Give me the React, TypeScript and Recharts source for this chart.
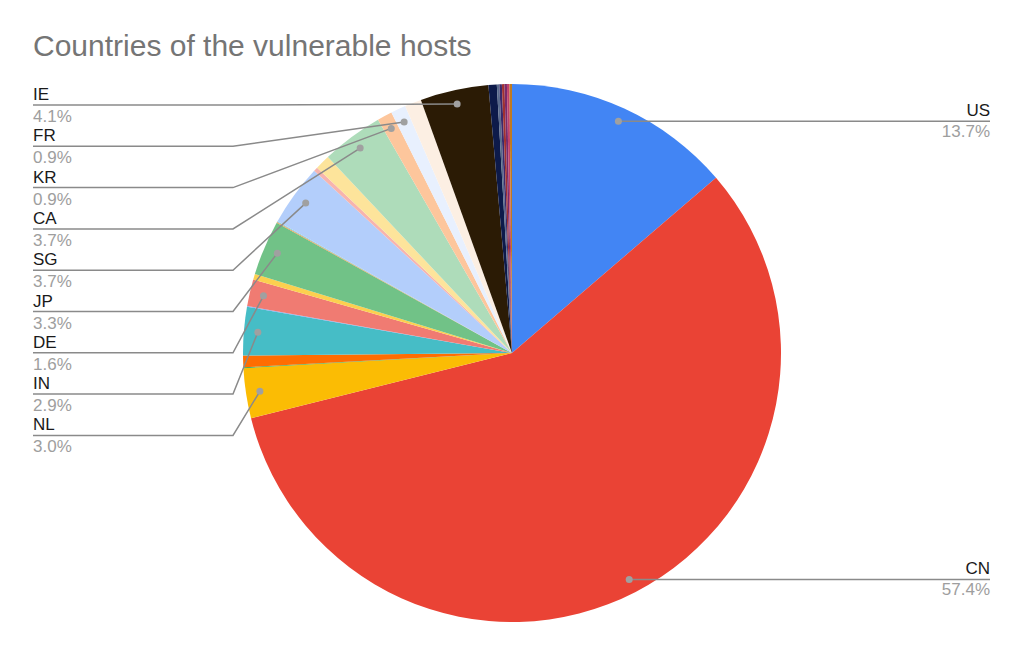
import { PieChart, Pie, Cell } from 'recharts';

// slice order is clockwise from 12 o'clock
const countries = [
  'US', 'CN', 'NL', 'o1', 'o2', 'IN', 'o3', 'DE', 'o4', 'JP', 'o5', 'o6', 'SG', 'o7', 'o8',
  'CA', 'KR', 'FR', 'o9', 'IE', 'o10', 'o11', 'o12', 'o13', 'o14', 'o15', 'o16',
];
const shares = [
  13.7, 57.4, 3.0, 0.05, 0.7, 2.9, 0.05, 1.6, 0.35, 3.3, 0.05, 0.05, 3.7, 0.25, 0.9,
  3.7, 0.9, 0.9, 1.0, 4.1, 0.5, 0.15, 0.15, 0.15, 0.15, 0.15, 0.15,
];
const colors = [
  '#4285f4', '#ea4335', '#fbbc04', '#34a853', '#ff6d01', '#46bdc6', '#7baaf7', '#f07b72',
  '#fcd04f', '#71c287', '#ff994d', '#7ed1d7', '#b3cefb', '#f7b4ae', '#fde49b', '#aedcba',
  '#fdc69c', '#e8f0fe', '#fcefe3', '#2b1b05', '#0d1a4a', '#5a6b8c', '#3b2a6b', '#a03030',
  '#7a2a6a', '#c0406a', '#c07a20',
];
const leftLabels = ['IE', 'FR', 'KR', 'CA', 'SG', 'JP', 'DE', 'IN', 'NL'];
const rightLabels = ['US', 'CN'];

const data = countries.map((name, i) => ({ name, value: shares[i] }));
const total = shares.reduce((a, b) => a + b, 0);

const RAD = Math.PI / 180;

function renderLabel(props: any) {
  const { cx, cy, midAngle, outerRadius, index } = props;
  const name = countries[index];
  const isLeft = leftLabels.includes(name);
  const isRight = rightLabels.includes(name);
  if (!isLeft && !isRight) return null;
  const r = outerRadius * 0.948;
  const dx = cx + r * Math.cos(-midAngle * RAD);
  const dy = cy + r * Math.sin(-midAngle * RAD);
  const pct = ((shares[index] / total) * 100).toFixed(1) + '%';
  if (isLeft) {
    const y = 105 + leftLabels.indexOf(name) * 41.3;
    return (
      <g key={`lbl-${name}`}>
        <polyline
          points={`33,${y} 233,${y} ${dx},${dy}`}
          fill="none"
          stroke="#8a8a8a"
          strokeWidth={1.5}
        />
        <circle cx={dx} cy={dy} r={3.5} fill="#a0a0a0" />
        <text x={33} y={y - 5} fontSize={17} fill="#1a1a1a">{name}</text>
        <text x={33} y={y + 17} fontSize={17} fill="#9e9e9e">{pct}</text>
      </g>
    );
  }
  return (
    <g key={`lbl-${name}`}>
      <line x1={dx} y1={dy} x2={990} y2={dy} stroke="#8a8a8a" strokeWidth={1.5} />
      <circle cx={dx} cy={dy} r={3.5} fill="#a0a0a0" />
      <text x={990} y={dy - 5} fontSize={17} fill="#1a1a1a" textAnchor="end">{name}</text>
      <text x={990} y={dy + 16} fontSize={17} fill="#9e9e9e" textAnchor="end">{pct}</text>
    </g>
  );
}

export default function App() {
  return (
    <div
      style={{
        position: 'absolute',
        left: 0,
        top: 0,
        width: 1024,
        height: 655,
        background: '#fff',
        fontFamily: '"Liberation Sans", Arial, sans-serif',
      }}
    >
      <div
        style={{
          position: 'absolute',
          left: 33,
          top: 29,
          fontSize: 30,
          color: '#757575',
          whiteSpace: 'nowrap',
        }}
      >
        Countries of the vulnerable hosts
      </div>
      <PieChart width={1024} height={655} margin={{ top: 0, right: 0, bottom: 0, left: 0 }}>
        <Pie
          data={data}
          dataKey="value"
          nameKey="name"
          cx={512}
          cy={353}
          outerRadius={269}
          startAngle={90}
          endAngle={-270}
          stroke="none"
          label={renderLabel}
          labelLine={false}
          isAnimationActive={false}
        >
          {data.map((_, index) => (
            <Cell key={`cell-${index}`} fill={colors[index]} />
          ))}
        </Pie>
      </PieChart>
    </div>
  );
}
